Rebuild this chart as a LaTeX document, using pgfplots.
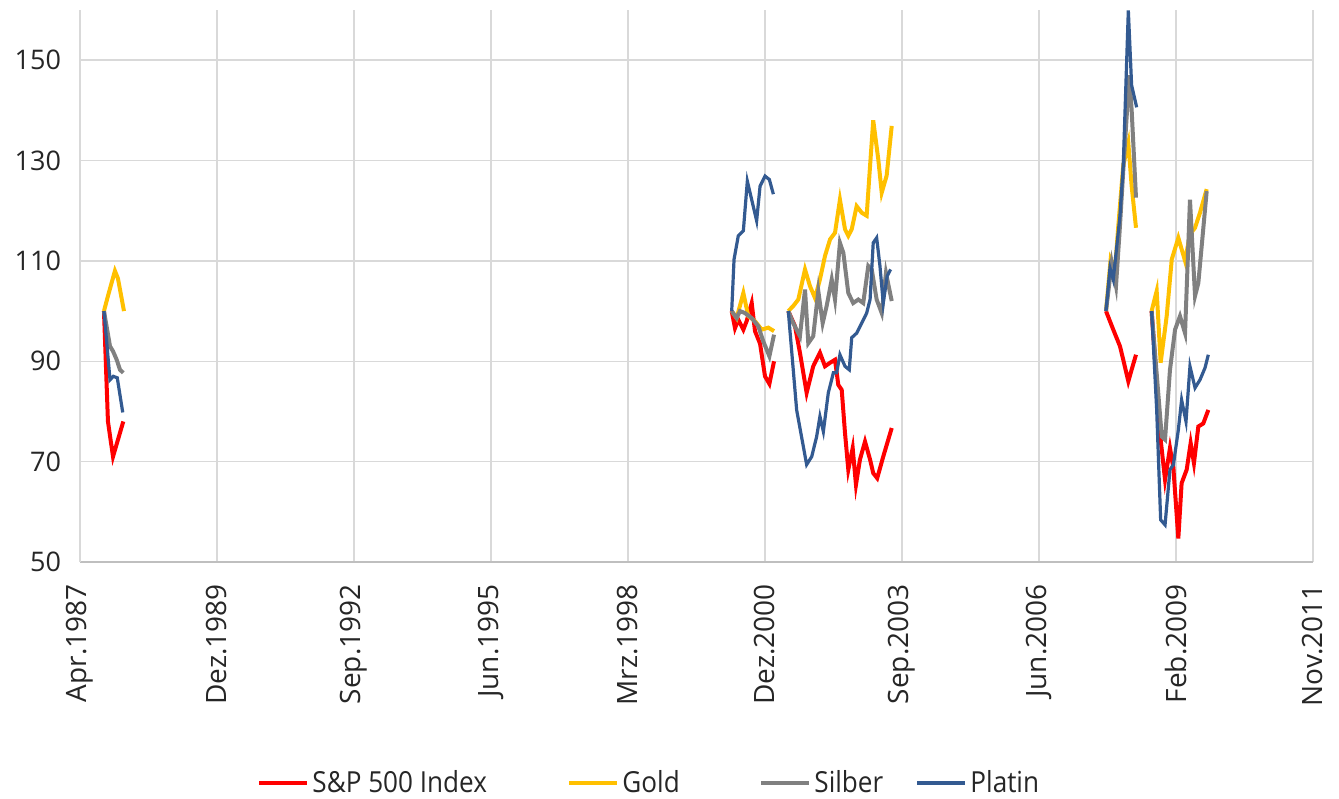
\documentclass[border=0pt]{standalone}
\usepackage{pgfplots}
\pgfplotsset{compat=1.18}
\usepackage{fontspec}
\setmainfont{Open Sans}
\definecolor{spred}{RGB}{255,0,0}
\definecolor{goldc}{RGB}{255,192,0}
\definecolor{silverc}{RGB}{128,128,128}
\definecolor{platc}{RGB}{51,90,145}
\definecolor{gridgray}{RGB}{217,217,217}
\definecolor{axisgray}{RGB}{191,191,191}
\newcommand{\lgd}[2]{\makebox[#1][l]{\scalebox{0.9}[1]{#2}}}
\begin{document}
\begin{tikzpicture}
\begin{axis}[
  scale only axis, width=616.5pt, height=276pt,
  xmin=0, xmax=9000, ymin=50, ymax=160,
  xtick={0,1000,...,9000},
  xticklabels={Apr.1987,Dez.1989,Sep.1992,Jun.1995,Mrz.1998,Dez.2000,Sep.2003,Jun.2006,Feb.2009,Nov.2011},
  ytick={50,70,...,150},
  xmajorgrids, ymajorgrids,
  grid style={draw=gridgray, line width=0.75pt},
  axis x line*=bottom, axis y line*=left,
  x axis line style={draw=axisgray, line width=0.9pt},
  y axis line style={draw=gridgray, line width=0.75pt},
  major tick length=0pt,
  tick label style={font=\fontsize{13.5}{16}\selectfont, text=black!85},
  xticklabel style={font=\fontsize{14}{16}\selectfont, rotate=90, anchor=east, inner sep=0pt, xshift=-11pt},
  yticklabel style={xshift=-6pt},
  /pgf/number format/assume math mode=true,
  unbounded coords=jump,
  legend columns=4,
  legend style={at={(0.1436,-0.400)}, anchor=west, draw=none, fill=none,
    font=\fontsize{14.5}{17}\selectfont, inner sep=0pt,
    nodes={inner sep=1.5pt, text=black!85},
    /tikz/every even column/.append style={column sep=0pt}},
  legend image code/.code={\draw[#1, line width=2pt] (0pt,0pt) -- (24pt,0pt);},
]
\addplot[spred, line width=2pt] coordinates {
(175,100) (204,78) (241,71) (316,78)
(1000,nan)
(4757,100) (4781,96.6) (4805,98.3) (4842,96.3) (4866,98) (4903,101.6) (4927,96) (4964,93.5) (5000,87) (5032,85.5) (5066,90)
(5120,nan)
(5170,100) (5219,97) (5255,91.7) (5304,83.7) (5352,89) (5401,91.7) (5438,89) (5475,89.7) (5511,90.3) (5535,85.3) (5560,84.3) (5584,75.7) (5608,68.4) (5640,72.7) (5664,65.4) (5693,70.4) (5730,74) (5767,70.4) (5790,67.7) (5819,66.7) (5863,71) (5925,76.7)
(7000,nan)
(7489,100) (7542,96.3) (7591,93) (7615,90.3) (7652,86) (7676,88.3) (7708,91.3)
(7760,nan)
(7822,100) (7888,74.4) (7920,66.4) (7956,72.7) (7981,68.7) (8017,54.7) (8041,65.7) (8078,68.4) (8107,73.7) (8131,69.7) (8163,77) (8199,77.6) (8236,80.3)
};
\addlegendentry{\lgd{126pt}{S\&P 500 Index}}
\addplot[goldc, line width=2pt] coordinates {
(175,100) (204,103) (255,108) (277,106.5) (321,100)
(1000,nan)
(4757,100) (4793,98.6) (4842,103.6) (4878,99) (4927,98) (4976,96.3) (5024,96.7) (5066,96)
(5120,nan)
(5170,100) (5206,101) (5243,102.3) (5292,108.3) (5328,105) (5365,102.6) (5401,106.3) (5438,111) (5475,114.3) (5511,115.6) (5547,122.2) (5584,116.3) (5608,115) (5633,116.3) (5669,120.9) (5706,119.6) (5742,119) (5767,129) (5790,138) (5827,130.2) (5852,123.6) (5888,127) (5925,136.9)
(7000,nan)
(7489,100) (7523,110.3) (7555,108.3) (7579,117) (7615,129) (7652,133.5) (7676,125) (7708,116.6)
(7760,nan)
(7822,100) (7859,104) (7888,89.7) (7932,99) (7969,110.3) (8017,114.6) (8066,110) (8102,115.3) (8139,116.6) (8175,119.6) (8224,124.3)
};
\addlegendentry{\lgd{67pt}{Gold}}
\addplot[silverc, line width=2pt] coordinates {
(175,100) (219,93) (241,92) (268,90.3) (292,88.3) (316,87.7)
(1000,nan)
(4757,100) (4793,98.6) (4817,100) (4854,99.6) (4903,98.6) (4951,97) (4987,94) (5032,91) (5066,95.3)
(5120,nan)
(5170,100) (5206,97.6) (5255,95) (5292,104.3) (5316,93.6) (5352,95) (5389,104) (5421,97.6) (5450,101) (5487,106.3) (5511,102.3) (5547,113.6) (5572,111.6) (5608,103.6) (5644,101.6) (5681,102.3) (5717,101.6) (5754,109) (5779,108.3) (5815,102.3) (5852,99.6) (5883,107.6) (5925,102)
(7000,nan)
(7489,100) (7531,109.6) (7562,105) (7591,117) (7615,128) (7659,147) (7676,140.2) (7708,122.6)
(7760,nan)
(7822,100) (7896,75) (7920,74.4) (7956,88.3) (7993,96.3) (8029,99) (8066,95.6) (8102,122.2) (8139,103) (8163,105.6) (8224,123.9)
};
\addlegendentry{\lgd{49pt}{Silber}}
\addplot[platc, line width=1.6pt] coordinates {
(175,100) (219,86.3) (243,87) (272,86.7) (312,79.8)
(1000,nan)
(4757,100) (4774,110.3) (4805,115) (4842,116) (4871,125.9) (4939,118) (4964,124.9) (5000,126.9) (5032,126.2) (5061,123.3)
(5120,nan)
(5170,100) (5231,80.3) (5304,69.4) (5341,71) (5377,75) (5401,79) (5426,76) (5462,83.7) (5499,87.7) (5523,87.7) (5547,91.3) (5584,89) (5615,88.3) (5633,94.7) (5669,95.6) (5706,97.6) (5742,99.6) (5767,102.3) (5790,113.6) (5815,114.6) (5839,109) (5863,101.6) (5892,107) (5917,108.3)
(7000,nan)
(7489,100) (7518,108.6) (7542,106.3) (7591,119) (7615,129) (7652,159.9) (7676,145) (7713,140.6)
(7760,nan)
(7822,100) (7859,80.3) (7888,58.4) (7920,57.4) (7956,68.4) (7981,69.4) (8017,76.3) (8041,82.3) (8073,78) (8102,89) (8139,84.7) (8175,86.3) (8212,88.7) (8236,91.3)
};
\addlegendentry{\scalebox{0.9}[1]{Platin}}
\end{axis}
\path ([xshift=-40pt,yshift=-117pt]current axis.south west) rectangle ([xshift=13pt,yshift=5pt]current axis.north east);
\end{tikzpicture}
\end{document}
